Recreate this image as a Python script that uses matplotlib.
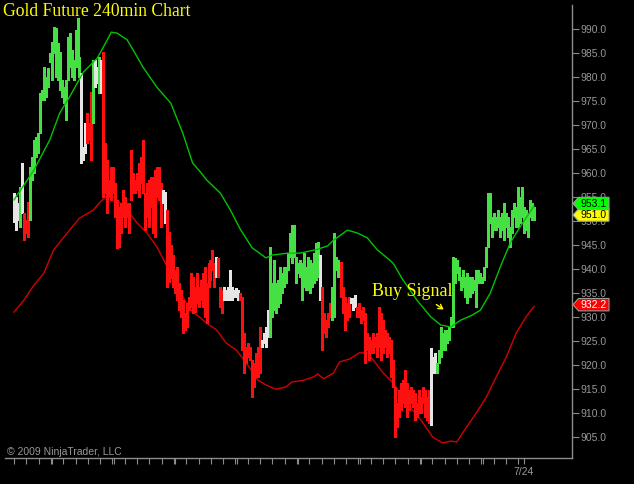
import matplotlib
matplotlib.use("Agg")
import matplotlib.pyplot as plt
from matplotlib.patches import Polygon
from matplotlib.transforms import blended_transform_factory
import numpy as np

# ---------------- data ----------------
highs = [
    955.8, 955.0, 953.8, 957.1, 962.1, 951.7, 950.2, 954.0, 961.3, 963.4,
    966.9, 967.5, 968.4, 976.7, 977.3, 982.1, 980.0, 981.9, 985.0, 987.3,
    990.5, 990.3, 987.1, 985.3, 979.4, 977.9, 979.4, 988.4, 989.2, 985.7,
    983.6, 989.9, 992.4, 984.2, 980.9, 965.4, 970.4, 972.5, 970.4, 976.9,
    983.6, 983.6, 982.1, 984.2, 983.6, 985.3, 966.3, 962.7, 958.6, 961.3,
    961.3, 957.9, 954.4, 952.9, 953.8, 956.5, 955.0, 953.8, 953.8, 964.8,
    960.0, 958.6, 960.0, 962.1, 963.4, 966.9, 955.8, 957.9, 958.6, 959.2,
    959.2, 960.6, 961.3, 961.3, 957.9, 956.5, 956.0, 952.3,
    947.7, 945.0, 942.9, 939.8, 940.4, 937.1, 935.6, 933.5, 930.8, 932.9,
    934.1, 939.1, 938.3, 936.2, 939.1,
    936.2, 937.7, 939.1, 940.4, 937.1, 941.2, 941.9, 944.0, 941.2,
    942.5,
    942.3, 936.2, 935.6,
    936.2, 935.6, 936.2, 939.8, 936.2, 935.6, 936.0, 935.6,
    935.0, 934.1, 926.6, 923.7, 924.5, 923.7, 921.0, 920.4, 922.5, 923.7, 927.9,
    925.2, 926.6, 927.9, 931.4,
    944.6, 937.1, 941.9, 937.1, 937.7, 940.4, 939.1, 940.4, 940.4, 943.3,
    947.5, 949.2, 949.2, 942.5, 941.2, 941.9, 941.2, 943.3, 940.4, 942.5,
    941.9, 941.2, 943.3, 945.4, 945.6,
    942.9,
    936.2, 930.8, 929.3, 930.8, 932.9,
    936.2, 947.5, 942.5, 941.9, 941.2,
    941.4, 936.2, 934.1, 932.9, 934.1,
    933.9, 933.9, 934.5,
    932.1, 932.9, 931.4, 932.1, 930.8, 926.6, 925.8, 925.2, 926.6, 925.8,
    926.6, 932.1, 930.8, 929.3, 927.3, 926.6, 925.8, 925.2, 921.0, 915.4,
    912.0, 914.7,
    916.2, 916.8, 918.9, 916.2, 914.7, 915.4, 914.7, 914.1, 912.0, 914.7,
    913.3, 915.4, 914.7, 913.3, 914.7,
    923.5, 921.6, 922.5,
    920.4, 923.1, 927.9, 926.6, 927.3, 927.3, 927.9, 930.0, 942.5, 942.3,
    941.9, 940.4, 938.3, 939.8, 938.3, 939.1, 938.3, 938.3, 938.3, 937.7,
    939.8, 939.8, 939.1, 938.3, 940.4, 944.6, 955.8, 955.8, 950.8, 951.7,
    950.8, 952.3, 950.8, 951.7, 953.8, 951.7, 950.8, 948.8, 952.3, 953.8,
    952.9, 957.1, 955.0, 957.1, 952.9, 952.3, 951.7, 954.4, 953.8, 953.0,
]
lows = [
    949.8, 948.1, 950.2, 948.7, 951.7, 946.0, 947.5, 946.7, 950.2, 958.6,
    960.0, 963.4, 964.2, 968.4, 975.2, 975.2, 975.9, 977.9, 983.2, 979.4,
    985.1, 980.0, 979.4, 977.3, 975.9, 974.6, 971.1, 979.4, 982.1, 980.0,
    979.4, 982.1, 984.2, 980.0, 962.1, 962.7, 964.2, 966.3, 966.9, 962.7,
    970.4, 977.9, 978.8, 976.7, 976.7, 955.0, 955.8, 951.7, 955.0, 954.4,
    955.8, 950.8, 944.4, 944.6, 947.5, 950.8, 948.8, 950.8, 947.5, 954.4,
    955.8, 955.8, 956.5, 955.0, 957.9, 955.8, 948.1, 950.8, 948.8, 952.9,
    947.5, 946.7, 955.0, 954.4, 948.8, 953.8, 949.6, 936.2,
    937.3, 938.1, 936.2, 935.0, 933.5, 931.4, 930.0, 926.6, 927.3, 927.9,
    931.4, 932.1, 930.8, 931.0, 932.9,
    932.1, 933.5, 932.1, 930.0, 928.7, 936.2, 937.7, 939.8, 936.2,
    938.3,
    938.3, 932.1, 930.8,
    933.5, 933.5, 933.5, 933.5, 933.5, 934.1, 934.1, 933.5,
    933.5, 923.1, 918.3, 920.4, 921.6, 921.0, 913.3, 915.4, 917.5, 917.5, 918.3,
    923.7, 924.5, 923.7, 925.8,
    925.8, 930.0, 931.4, 930.8, 932.1, 932.9, 935.0, 936.2, 937.1, 939.8,
    942.5, 941.2, 942.5, 937.1, 939.1, 938.3, 933.5, 936.2, 935.6, 935.6,
    935.0, 936.2, 937.1, 937.7, 938.3,
    933.5,
    923.1, 926.6, 925.8, 927.9, 930.0,
    929.3, 930.0, 939.8, 938.3, 939.8,
    934.1, 930.8, 927.3, 929.3, 930.0,
    932.9, 931.4, 932.1,
    930.0, 930.0, 928.7, 929.3, 920.4, 923.1, 921.0, 922.5, 922.5, 923.7,
    921.6, 923.7, 921.0, 922.5, 923.7, 921.6, 922.5, 917.5, 915.4, 904.9,
    907.0, 909.1,
    910.6, 912.0, 911.2, 909.1, 910.6, 912.0, 911.2, 908.5, 909.1, 909.9,
    909.9, 912.0, 909.1, 908.5, 907.9,
    907.4, 918.3, 918.3,
    918.3, 920.4, 921.6, 923.1, 923.1, 924.5, 925.2, 927.9, 927.9, 937.1,
    939.1, 937.7, 935.6, 936.2, 934.1, 932.9, 935.6, 934.1, 935.0, 935.6,
    932.1, 937.1, 937.1, 937.1, 937.7, 940.4, 944.6, 949.6, 946.7, 948.1,
    948.1, 948.8, 946.7, 948.1, 946.0, 948.8, 946.7, 944.6, 947.5, 950.8,
    948.8, 948.8, 949.6, 950.8, 947.5, 948.1, 946.7, 950.8, 950.2, 950.2,
]
bar_colors = ("wwwgwrrrg" + "g" * 25 + "www" + "rrr" + "gwwgw" + "r" * 30 + "ww" + "r"
              + "r" * 15
              + "r" * 9 + "w" + "r" * 3 + "w" * 8 + "r" * 11 + "w" * 4 + "g" * 25 + "w"
              + "r" * 5 + "g" * 5 + "r" * 5 + "w" * 3 + "r" * 22
              + "r" * 15 + "w" * 3 + "g" * 50)

green_idx = [0, 10, 18, 23, 28, 35, 42, 47, 49, 52, 57, 60, 65, 72, 79, 85, 90, 94, 97, 104,
             109, 114, 120, 127, 130, 138, 144, 152, 158, 161, 168, 173, 178, 183, 188, 191,
             196, 203, 210, 215, 220, 225, 231, 235, 240, 245, 250, 255, 262]
green_val = [954.4, 960.6, 966.9, 972.5, 975.9, 981.1, 984.0, 987.8, 989.4, 989.2, 987.8,
             985.7, 982.1, 977.9, 974.6, 968.4, 962.1, 960.2, 958.6, 955.8, 952.3, 948.3,
             944.4, 942.3, 942.9, 943.3, 943.3, 944.0, 944.8, 946.0, 948.1, 947.5, 946.5,
             944.0, 942.3, 941.2, 937.7, 933.5, 930.0, 928.3, 927.9, 929.3, 930.4, 931.4,
             935.0, 940.4, 945.4, 948.8, 953.1]
red_idx = [0, 5, 10, 15, 20, 28, 33, 40, 43, 47, 51, 57, 62, 67, 72, 76, 81, 86, 90, 94,
           97, 102, 107, 112, 117, 123, 127, 132, 137, 140, 146, 151, 153, 156, 161, 164,
           169, 174, 178, 181, 186, 191, 198, 205, 211, 216, 220, 223, 228, 233, 238, 243,
           248, 253, 258, 262]
red_val = [931.0, 933.5, 936.6, 939.1, 944.0, 948.1, 950.6, 952.3, 953.8, 955.4, 954.8,
           952.3, 949.6, 947.5, 944.6, 941.4, 937.3, 933.5, 931.0, 929.8, 928.7, 927.3,
           924.5, 923.1, 920.4, 916.8, 915.8, 914.9, 915.4, 916.4, 916.8, 917.5, 918.1,
           917.1, 918.3, 920.6, 921.2, 922.5, 922.5, 921.0, 918.3, 916.2, 912.0, 908.5,
           904.9, 903.7, 904.1, 903.9, 907.0, 910.0, 913.3, 917.5, 921.6, 926.6, 930.0,
           932.2]

last_price = 951.0
green_last = green_val[-1]
red_last = red_val[-1]
y_ticks = [905.0, 910.0, 915.0, 920.0, 925.0, 930.0, 935.0, 940.0, 945.0, 950.0,
           955.0, 960.0, 965.0, 970.0, 975.0, 980.0, 985.0, 990.0]
date_label = "7/24"
title = "Gold Future 240min Chart"
signal_text = "Buy Signal"
copyright_text = "\u00a9 2009 NinjaTrader, LLC"

assert len(highs) == len(lows) == len(bar_colors), (len(highs), len(lows), len(bar_colors))

# ---------------- styling ----------------
W, H = 634, 484
GREY = "#989898"
AXIS = "#8c8c8c"
cmap = {"g": "#44e044", "r": "#ff1010", "w": "#e6e6e6"}

fig = plt.figure(figsize=(W / 100, H / 100), dpi=100, facecolor="black")
ax = fig.add_axes([5 / W, 1 - 458 / H, 567 / W, 453 / H])
ax.set_facecolor("black")

n = len(highs)
pitch = 520.0 / (n - 1)
x = np.arange(n)

ax.vlines(x, lows, highs, colors=[cmap[c] for c in bar_colors], linewidth=0.75,
          antialiased=False, zorder=3)
ax.plot(green_idx, green_val, color="#00c400", lw=1.0, zorder=4)
ax.plot(red_idx, red_val, color="#d20000", lw=1.0, zorder=2)

for s in ("left", "top"):
    ax.spines[s].set_visible(False)
for s in ("right", "bottom"):
    ax.spines[s].set_color(AXIS)
    ax.spines[s].set_linewidth(1.0)

ax.yaxis.tick_right()
ax.set_yticks(y_ticks)
ax.set_yticklabels([f"{v:.1f}" for v in y_ticks], fontfamily="Liberation Sans")
ax.tick_params(axis="y", colors=AXIS, labelcolor=GREY, length=5, width=0.8,
               pad=1, labelsize=7.5, direction="out")

# x ticks (daily ticks with weekly doubles)
tick_px = []
for k in range(42):
    px = 14 + 12.3 * k
    tick_px.append(px)
    if k % 5 == 3:
        tick_px.append(px + 1.3)
tick_px.append(524)
xt = [(p - 14) / pitch for p in tick_px]
ax.set_xticks(xt)
ax.set_xticklabels([""] * (len(xt) - 1) + [date_label], fontfamily="Liberation Sans")
ax.tick_params(axis="x", colors=AXIS, labelcolor=GREY, length=4.3, width=0.8,
               pad=2, labelsize=7.5, direction="out")

# price tags on the right
tr = blended_transform_factory(fig.transFigure, ax.transData)
hh = 6.2 / 4.793


def tag(value, center, face, tcolor):
    xs = np.array([573, 578.5, 609, 609, 578.5]) / W
    ys = [center, center + hh, center + hh, center - hh, center - hh]
    ax.add_patch(Polygon(list(zip(xs, ys)), closed=True, transform=tr, facecolor=face,
                         edgecolor="#9a9a9a", lw=0.8, clip_on=False, zorder=10))
    ax.text(580.5 / W, center - 0.05, f"{value:.1f}", transform=tr, va="center", ha="left",
            color=tcolor, fontsize=7.5, fontfamily="Liberation Sans", zorder=11,
            clip_on=False)


tag(red_last, red_last + 0.35, "#ff0000", "white")
tag(last_price, last_price + 0.25, "#ffff00", "black")
tag(green_last, green_last + 0.55, "#00ff00", "black")

# texts
fig.text(3 / W, 1 - 16 / H, title, fontfamily="Liberation Serif", fontsize=12.7,
         color="#ffff00", va="baseline", ha="left")
fig.text(372 / W, 1 - 296 / H, signal_text, fontfamily="Liberation Serif", fontsize=13,
         color="#ffff00", va="baseline", ha="left")
ax.annotate("", xy=(446 / W, 1 - 311 / H), xytext=(434 / W, 1 - 303 / H),
            xycoords="figure fraction", textcoords="figure fraction",
            arrowprops=dict(arrowstyle="->,head_length=0.3,head_width=0.18",
                            color="#ffff00", lw=1.0))
fig.text(7 / W, 1 - 452 / H, copyright_text, fontfamily="Liberation Sans", fontsize=7.5,
         color=GREY, va="center", ha="left")

ax.set_xlim(-9 / pitch, 558 / pitch)
ax.set_ylim(900.56, 995.07)

fig.savefig("out.png", dpi=100, facecolor="black")
